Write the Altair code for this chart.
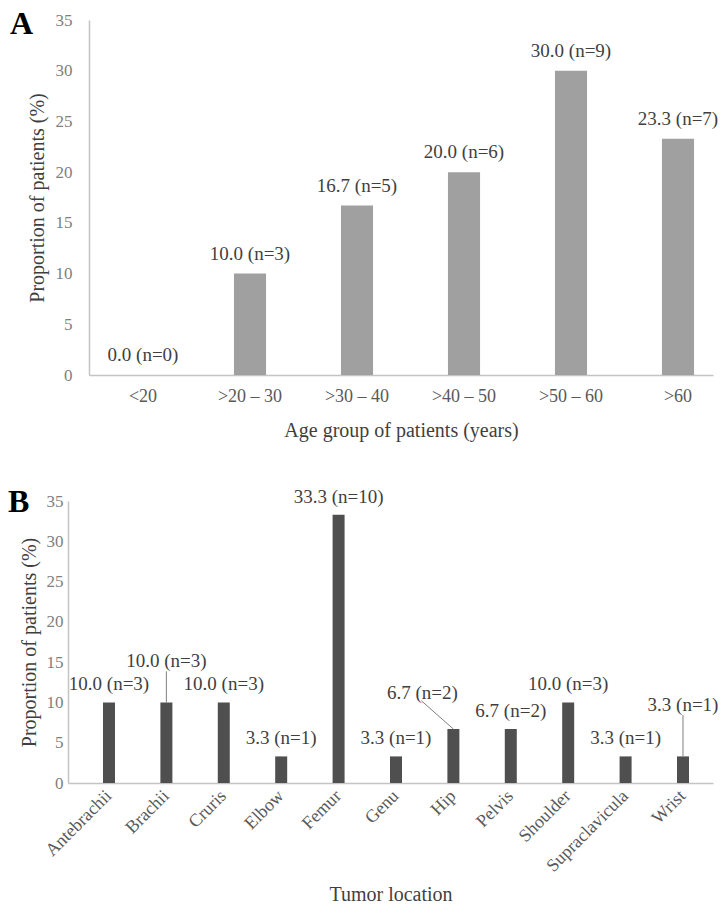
import altair as alt
import pandas as pd

# ---------------- data ----------------
# Panel A: age groups
age_groups = ["<20", ">20 – 30", ">30 – 40", ">40 – 50", ">50 – 60", ">60"]
age_pct = [0.0, 10.0, 16.7, 20.0, 30.0, 23.3]
age_n = [0, 3, 5, 6, 9, 7]

# Panel B: tumor locations
locations = ["Antebrachii", "Brachii", "Cruris", "Elbow", "Femur", "Genu",
             "Hip", "Pelvis", "Shoulder", "Supraclavicula", "Wrist"]
loc_pct = [10.0, 10.0, 10.0, 3.3, 33.3, 3.3, 6.7, 6.7, 10.0, 3.3, 3.3]
loc_n = [3, 3, 3, 1, 10, 1, 2, 2, 3, 1, 1]

# labels lifted above their bar with a leader line (label height in %)
callout_loc = ["Brachii", "Hip", "Wrist"]
callout_height = [15.1, 11.2, 9.7]

y_ticks = [0, 5, 10, 15, 20, 25, 30, 35]

FONT = "Liberation Serif"
TXT = "#3f3f3f"
AXC = "#c4c4c4"

dfA = pd.DataFrame({"group": age_groups, "pct": age_pct, "n": age_n})
dfA["label"] = [f"{p:.1f} (n={n})" for p, n in zip(age_pct, age_n)]

dfB = pd.DataFrame({"loc": locations, "pct": loc_pct, "n": loc_n})
dfB["label"] = [f"{p:.1f} (n={n})" for p, n in zip(loc_pct, loc_n)]
ch = dict(zip(callout_loc, callout_height))
dfB["label_y"] = [ch.get(l) for l in locations]
dfB["callout"] = [l in ch for l in locations]

W = 645          # both plot areas share the left edge (page x = 68)
A_SHIFT = 21     # panel A's axes start 21 px further right


def y_axis(label_pad, title_pad, offset=0):
    return alt.Axis(values=y_ticks, title="Proportion of patients (%)", grid=False,
                    ticks=False, domainColor=AXC, domainWidth=1.5, offset=offset,
                    labelFont=FONT, labelFontSize=17, labelColor="#808080",
                    labelPadding=label_pad, titleFont=FONT, titleFontSize=20,
                    titleFontWeight="normal", titleColor=TXT, titlePadding=title_pad)


def panel_letter(letter, dx, y):
    return alt.Chart(pd.DataFrame({"t": [letter]})).mark_text(
        font=FONT, fontSize=32, fontWeight="bold", color="black",
        align="left", baseline="top").encode(
        text="t:N", x=alt.value(dx), y=alt.value(y))


# ---------------- panel A ----------------
xA = alt.X("group:N", sort=age_groups,
           scale=alt.Scale(range=[A_SHIFT, W], paddingInner=0.7, paddingOuter=0.266,
                           align=0.667),
           axis=alt.Axis(title="Age group of patients (years)", labelAngle=0, ticks=False,
                         domainColor=AXC, domainWidth=1.5, labelFont=FONT, labelFontSize=18,
                         labelColor="#595959", labelPadding=12, titleFont=FONT,
                         titleFontSize=20, titleFontWeight="normal", titleColor=TXT,
                         titlePadding=15))
yA = alt.Y("pct:Q", scale=alt.Scale(domain=[0, 35]), axis=y_axis(17, 8, -A_SHIFT))

barsA = alt.Chart(dfA).mark_bar(color="#a0a0a0").encode(x=xA, y=yA)
textA = alt.Chart(dfA).mark_text(font=FONT, fontSize=19, color=TXT, dy=-20,
                                 baseline="middle").encode(
    x=alt.X("group:N", sort=age_groups), y="pct:Q", text="label:N")

panelA = alt.layer(barsA, textA, panel_letter("A", -58, -11)).properties(
    width=W, height=355)

# ---------------- panel B ----------------
xB = alt.X("loc:N", sort=locations,
           scale=alt.Scale(paddingInner=0.791, paddingOuter=0.514, align=0.593),
           axis=alt.Axis(title="Tumor location", labelAngle=-45, labelAlign="right",
                         labelBaseline="middle", ticks=False, domainColor=AXC,
                         domainWidth=1.5, labelFont=FONT, labelFontSize=18,
                         labelColor="#595959", labelPadding=10, titleFont=FONT,
                         titleFontSize=20, titleFontWeight="normal", titleColor=TXT,
                         titlePadding=10))
yB = alt.Y("pct:Q", scale=alt.Scale(domain=[0, 35]), axis=y_axis(5, 7))

baseB = alt.Chart(dfB)
barsB = baseB.mark_bar(color="#4f4f4f").encode(x=xB, y=yB)
textB = baseB.transform_filter("!datum.callout").mark_text(
    font=FONT, fontSize=19, color=TXT, dy=-18, baseline="middle").encode(
    x=alt.X("loc:N", sort=locations), y="pct:Q", text="label:N")
textB2 = baseB.transform_filter("datum.callout && datum.loc != 'Hip'").mark_text(
    font=FONT, fontSize=19, color=TXT, baseline="middle").encode(
    x=alt.X("loc:N", sort=locations), y="label_y:Q", text="label:N")
textHip = baseB.transform_filter("datum.loc == 'Hip'").mark_text(
    font=FONT, fontSize=19, color=TXT, baseline="middle", dx=-31).encode(
    x=alt.X("loc:N", sort=locations), y="label_y:Q", text="label:N")
leadV = baseB.transform_filter("datum.callout && datum.loc != 'Hip'").mark_rule(
    color="#808080", strokeWidth=1, y2Offset=10).encode(
    x=alt.X("loc:N", sort=locations), y="pct:Q", y2="label_y:Q")
leadHip = baseB.transform_filter("datum.loc == 'Hip'").mark_rule(
    color="#808080", strokeWidth=1, x2Offset=-32, y2Offset=8).encode(
    x=alt.X("loc:N", sort=locations), x2="loc:N", y="pct:Q", y2="label_y:Q")

panelB = alt.layer(barsB, leadV, leadHip, textB, textB2, textHip,
                   panel_letter("B", -60, -14)).properties(width=W, height=282)

chart = alt.vconcat(panelA, panelB, spacing=46).properties(
    padding={"left": 0, "top": 0, "right": 0, "bottom": 0},
    background="white",
).configure_view(stroke=None)

chart.save("out.html", embed_options={"renderer": "svg", "actions": False})
